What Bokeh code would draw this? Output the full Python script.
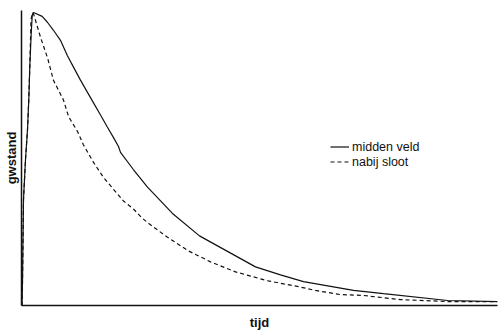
from bokeh.plotting import figure
from bokeh.models import Range1d, FixedTicker, Legend, LegendItem
from bokeh.embed import file_html
from bokeh.resources import INLINE

# midden veld (solid)
t_midden = [0, 0.1, 0.21, 0.42, 0.84, 1.26, 1.53, 1.74, 2.04, 2.25, 2.52, 4.35, 5.40, 6.72,
            8.19, 9.60, 10.92, 12.39, 13.80, 15.13, 16.60, 18.0, 19.33, 20.38, 20.8, 23.5,
            26.47, 31.66, 37.39, 49.16, 54.41, 59.24, 69.75, 76.05, 89.5, 100]
g_midden = [0, 0, 0.081, 0.36, 0.495, 0.596, 0.697, 0.808, 0.923, 0.983, 0.993, 0.980, 0.961,
            0.933, 0.899, 0.848, 0.808, 0.764, 0.724, 0.687, 0.646, 0.606, 0.569, 0.539, 0.519,
            0.461, 0.401, 0.313, 0.236, 0.131, 0.104, 0.081, 0.051, 0.040, 0.017, 0.013]

# nabij sloot (dashed)
t_sloot = [0, 0.1, 0.21, 0.42, 0.84, 1.26, 1.53, 1.74, 2.0, 2.3, 2.6, 4.0, 5.5, 6.7, 8.8, 9.9,
           11.8, 13.0, 15.13, 17.23, 19.33, 21.43, 23.53, 25.36, 26.89, 30.61, 35.08, 39.71,
           44.96, 51.62, 58.19, 61.76, 67.02, 71.85, 79.62, 90.13, 100]
g_sloot = [0, 0, 0.081, 0.36, 0.495, 0.596, 0.697, 0.808, 0.97, 0.993, 0.985, 0.909, 0.838,
           0.764, 0.697, 0.64, 0.589, 0.545, 0.485, 0.434, 0.394, 0.354, 0.327, 0.296, 0.276,
           0.232, 0.185, 0.148, 0.114, 0.084, 0.064, 0.051, 0.037, 0.034, 0.020, 0.013, 0.013]

x_label = "tijd"
y_label = "gwstand"
series_names = ["midden veld", "nabij sloot"]

p = figure(width=498, height=332, output_backend="svg", toolbar_location=None,
           x_range=Range1d(0, 100), y_range=Range1d(0, 1.0),
           min_border_left=21, min_border_right=1, min_border_top=10, min_border_bottom=25)
p.outline_line_color = None
p.grid.visible = False
p.background_fill_color = "white"

for ax in (p.xaxis[0], p.yaxis[0]):
    ax.ticker = FixedTicker(ticks=[])
    ax.major_tick_out = 0
    ax.major_tick_in = 0
    ax.minor_tick_out = 0
    ax.minor_tick_in = 0
    ax.major_label_text_font_size = "0px"
    ax.axis_line_color = "#111111"
    ax.axis_line_width = 1.5
    ax.axis_label_text_font = "Liberation Sans"
    ax.axis_label_text_font_style = "bold"
    ax.axis_label_text_font_size = "13px"
    ax.axis_label_text_color = "#111111"

p.xaxis.axis_label = x_label
p.yaxis.axis_label = y_label
p.xaxis.axis_label_standoff = 9
p.yaxis.axis_label_standoff = 3

r1 = p.line(t_midden, g_midden, line_color="#111111", line_width=1.2)
r2 = p.line(t_sloot, g_sloot, line_color="#111111", line_width=1.2, line_dash="4 3")

legend = Legend(items=[LegendItem(label=series_names[0], renderers=[r1]),
                       LegendItem(label=series_names[1], renderers=[r2])],
                location=(309, 136))
legend.padding = 0
legend.spacing = 0
legend.margin = 0
legend.glyph_height = 15
legend.glyph_width = 19
legend.label_height = 15
legend.label_standoff = 3
legend.label_text_font = "Liberation Sans"
legend.label_text_font_size = "12.5px"
legend.label_text_color = "#111111"
legend.border_line_alpha = 0
legend.background_fill_alpha = 0
p.add_layout(legend, "center")

open("out.html", "w").write(file_html(p, INLINE))
